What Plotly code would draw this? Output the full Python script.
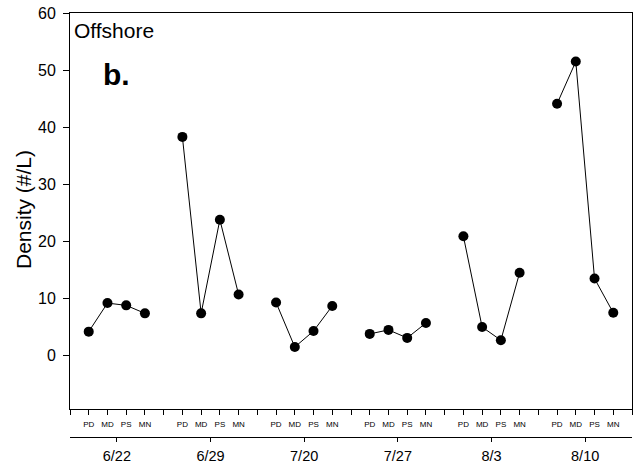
import plotly.graph_objects as go

dates = ["6/22", "6/29", "7/20", "7/27", "8/3", "8/10"]
sites = ["PD", "MD", "PS", "MN"]
d_622 = [4.2, 9.2, 8.8, 7.4]
d_629 = [38.3, 7.4, 23.8, 10.7]
d_720 = [9.3, 1.5, 4.3, 8.7]
d_727 = [3.8, 4.5, 3.1, 5.7]
d_803 = [20.9, 5.0, 2.7, 14.5]
d_810 = [44.1, 51.5, 13.5, 7.5]
groups = [d_622, d_629, d_720, d_727, d_803, d_810]
y_ticks = [0, 10, 20, 30, 40, 50, 60]

FONT = "Liberation Sans, Arial, sans-serif"
step = len(sites) + 1
n_slots = step * len(dates)

fig = go.Figure()
for g, vals in enumerate(groups):
    xs = [g * step + i + 1 for i in range(len(vals))]
    fig.add_trace(go.Scatter(
        x=xs, y=vals, mode="lines+markers",
        line=dict(color="black", width=1),
        marker=dict(color="black", size=10),
        showlegend=False, hoverinfo="skip"))

fig.add_trace(go.Scatter(x=[], y=[], xaxis="x2", yaxis="y", showlegend=False))

tickvals = list(range(n_slots + 1))
ticktext = []
for t in tickvals:
    r = t % step
    ticktext.append(sites[r - 1] if 1 <= r <= len(sites) else "")

W, H = 634, 466
ml, mr, mt, mb = 70, 2, 13, 29
pw, ph = W - ml - mr, H - mt - mb
ybot = (437 - 409) / ph

def px_x(p):
    return (p - ml) / pw

def px_y(p):
    return (H - mb - p) / ph

fig.update_layout(
    width=W, height=H,
    margin=dict(l=ml, r=mr, t=mt, b=mb),
    paper_bgcolor="white", plot_bgcolor="white",
    font=dict(family=FONT, color="black"),
    xaxis=dict(range=[0, n_slots], tickvals=tickvals, ticktext=ticktext,
               ticks="outside", ticklen=5, tickwidth=1, tickcolor="black",
               showline=True, linecolor="black", linewidth=1, mirror=True,
               showgrid=False, zeroline=False, ticklabelstandoff=2,
               tickfont=dict(size=8, family=FONT, color="black")),
    xaxis2=dict(range=[0, n_slots], overlaying="x", anchor="free", position=0,
                side="bottom",
                tickvals=[g * step + (len(sites) + 1) / 2 for g in range(len(dates))],
                ticktext=dates,
                ticks="outside", ticklen=4, tickwidth=1, tickcolor="black",
                showline=True, linecolor="black", linewidth=1,
                showgrid=False, zeroline=False, ticklabelstandoff=2,
                tickfont=dict(size=14.5, family=FONT, color="black")),
    yaxis=dict(range=[-9.35, 60], domain=[ybot, 1], tickvals=y_ticks,
               ticks="outside", ticklen=6, tickwidth=1, tickcolor="black",
               showline=True, linecolor="black", linewidth=1, mirror=True,
               showgrid=False, zeroline=False, ticklabelstandoff=4,
               tickfont=dict(size=16, family=FONT, color="black")),
    annotations=[
        dict(text="Offshore", xref="paper", yref="paper",
             x=px_x(72), y=px_y(30), xanchor="left", yanchor="middle",
             showarrow=False, font=dict(size=21, family=FONT, color="black")),
        dict(text="<b>b.</b>", xref="paper", yref="paper",
             x=px_x(101), y=px_y(74), xanchor="left", yanchor="middle",
             showarrow=False, font=dict(size=30, family=FONT, color="black")),
        dict(text="Density (#/L)", xref="paper", yref="paper",
             x=px_x(23), y=px_y(210), xanchor="center", yanchor="middle",
             textangle=-90, showarrow=False,
             font=dict(size=21, family=FONT, color="black")),
    ],
)

fig.write_html("out.html")
